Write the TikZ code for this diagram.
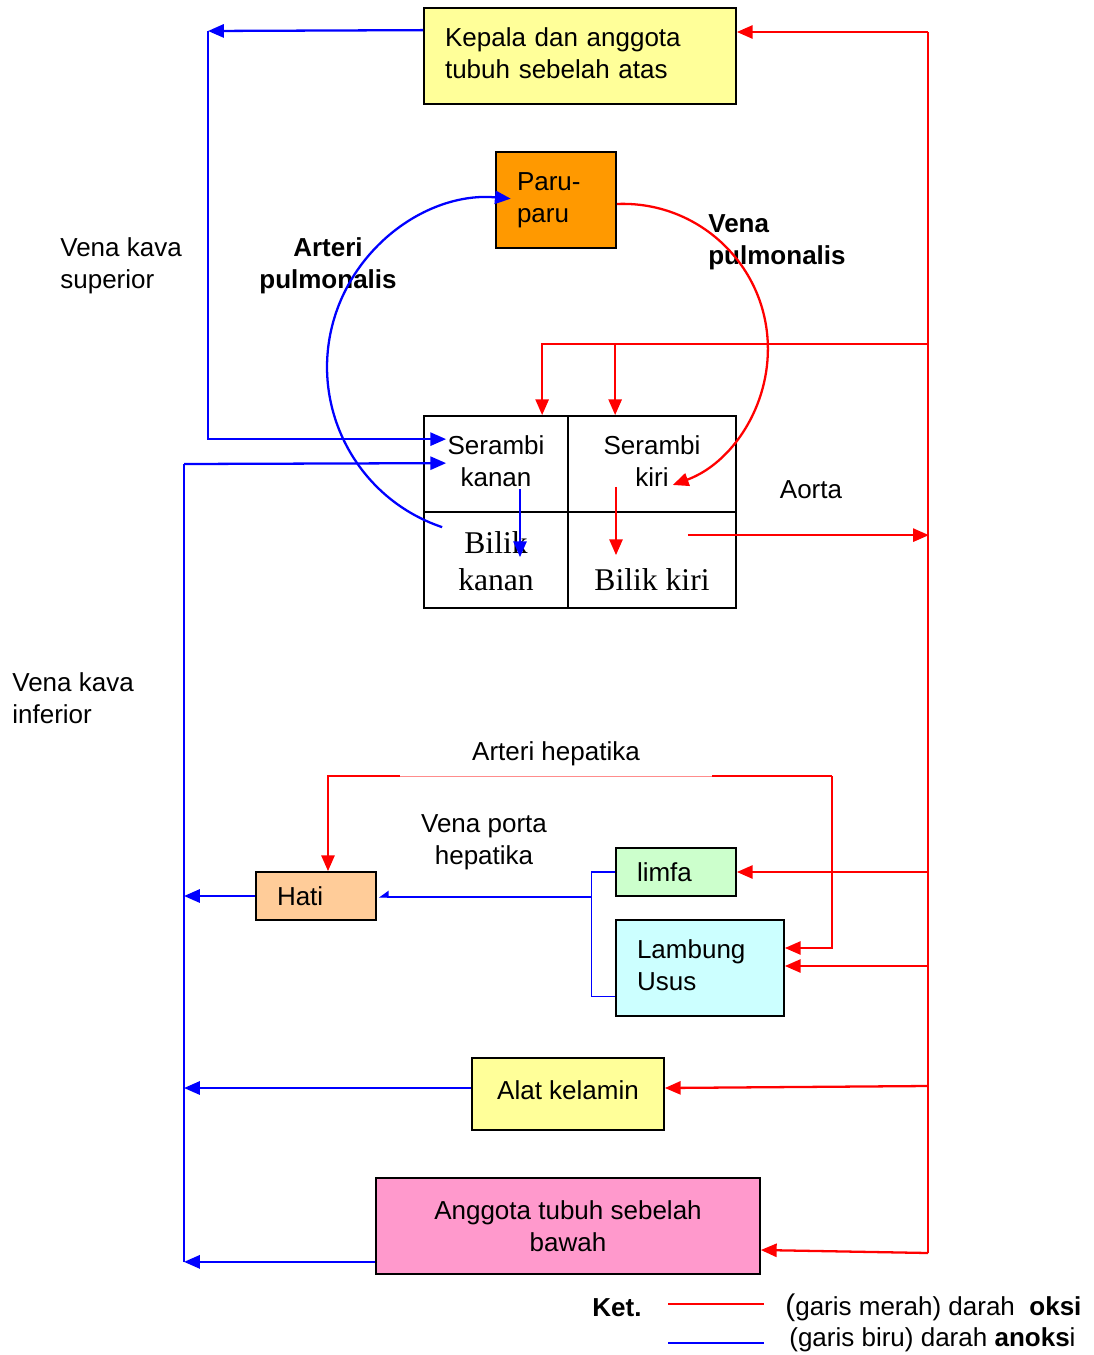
\documentclass[tikz,border=0pt]{standalone}
\usepackage{fontspec}
\setmainfont{Liberation Sans}
\newfontfamily\bilikfont{Liberation Serif}
\usetikzlibrary{arrows.meta, calc}

\definecolor{merah}{HTML}{FF0000}
\definecolor{biru}{HTML}{0000FF}
\definecolor{kuning}{HTML}{FFFF99}
\definecolor{oranye}{HTML}{FF9900}
\definecolor{krem}{HTML}{FFCC99}
\definecolor{hijau}{HTML}{CCFFCC}
\definecolor{cyan}{HTML}{CCFFFF}
\definecolor{pink}{HTML}{FF99CC}

\newcommand{\naik}[3]{\raisebox{#1}{\begin{tabular}{@{}#2@{}}#3\end{tabular}}}

\begin{document}
\begin{tikzpicture}[x=0.02cm, y=-0.02cm,
    every node/.style={font=\fontsize{14.8}{18.2}\selectfont, inner sep=0pt},
    kotak/.style={draw, line width=1pt, align=left, inner xsep=0.42cm},
    sel/.style={draw, line width=1pt, align=center},
    tebal/.style={font=\fontsize{14.8}{18.2}\selectfont\bfseries},
    bilik/.style={font=\fontsize{18}{21}\selectfont\bilikfont, align=center},
    darahO/.style={merah, line width=1.3pt},
    darahA/.style={biru, line width=1.3pt},
    panah/.style={-{Triangle[length=9pt, width=7.5pt]}}]
    \useasboundingbox (0,0) rectangle (1094,1355);

    % organ
    \node[kotak, fill=kuning, minimum width=6.24cm, minimum height=1.92cm, text width=5.4cm] (kepala) at (580,56) {\naik{0.1cm}{l}{Kepala dan anggota\\tubuh sebelah atas}};
    \node[kotak, fill=oranye, minimum width=2.4cm, minimum height=1.92cm, text width=1.56cm] (paru) at (556,200) {Paru-\\paru};
    \node[kotak, fill=krem, minimum width=2.4cm, minimum height=0.96cm, text width=1.56cm] (hati) at (316,896) {Hati};
    \node[kotak, fill=hijau, minimum width=2.4cm, minimum height=0.96cm, text width=1.56cm] (limfa) at (676,872) {limfa};
    \node[kotak, fill=cyan, minimum width=3.36cm, minimum height=1.92cm, text width=2.52cm] (lambung) at (700,968) {\naik{0.12cm}{l}{Lambung\\Usus}};
    \node[sel, fill=kuning, minimum width=3.84cm, minimum height=1.44cm] (alat) at (568,1094) {\raisebox{0.16cm}{Alat kelamin}};
    \node[sel, fill=pink, minimum width=7.68cm, minimum height=1.92cm] (anggota) at (568,1226) {Anggota tubuh sebelah\\bawah};

    % jantung
    \node[sel, minimum width=2.88cm, minimum height=1.92cm] (sk) at (496,464) {\naik{0.1cm}{c}{Serambi\\kanan}};
    \node[sel, minimum width=3.36cm, minimum height=1.92cm] (skr) at (652,464) {\naik{0.1cm}{c}{Serambi\\kiri}};
    \node[sel, minimum width=2.88cm, minimum height=1.92cm] (bk) at (496,560) {};
    \node[sel, minimum width=3.36cm, minimum height=1.92cm] (bkr) at (652,560) {};
    \node[bilik] (bkT) at (496,561) {Bilik\\kanan};
    \node[bilik] (bkrT) at (652,580) {Bilik kiri};

    % label
    \node[align=left, anchor=west] (vks) at (60,266) {Vena kava\\superior};
    \node[tebal, align=center] (ap) at (328,266) {Arteri\\pulmonalis};
    \node[tebal, align=left, anchor=west] (vp) at (708,242) {Vena\\pulmonalis};
    \node[align=left, anchor=west] (vki) at (12,698) {Vena kava\\inferior};
    \node (aorta) at (811,490) {Aorta};
    \node (ah) at (556,754) {Arteri hepatika};
    \node[align=center] (vph) at (484,842) {Vena porta\\hepatika};

    % darah anoksi
    \coordinate (sup) at (208,31);
    \coordinate (infT) at (184,464);
    \coordinate (infB) at (184,1262);
    \draw[darahA, panah] ($(kepala.north west)+(0,23)$) -- (sup);
    \draw[darahA, panah] (sup) |- ($(sk.north west)+(23,24)$);
    \draw[darahA] (infB) -- (infT);
    \draw[darahA, panah] (infT) -- ($(sk.north west)+(23,48)$);
    \draw[darahA, panah] (hati.west) -- (hati.west -| infT);
    \draw[darahA, panah] ($(alat.west)+(0,-6)$) -- ($(alat.west -| infT)+(0,-6)$);
    \draw[darahA, panah] ($(anggota.south west)+(0,-13)$) -- ($(anggota.south west -| infT)+(0,-13)$);
    \draw[darahA, panah] ($(sk.south)+(24,-24)$) -- ($(bk.north)+(24,46)$);
    \draw[darahA, panah] ($(bk.north west)+(19,16)$) arc[start angle=251.4, end angle=85, radius=3.38cm];

    % vena porta
    \draw[biru, line width=0.7pt] (limfa.west) -| ($(lambung.south west)+(-24,-20)$) -- ($(lambung.south west)+(0,-20)$);
    \draw[biru, line width=0.7pt, -{Triangle[length=5pt, width=7pt, harpoon, swap]}] ($(limfa.west)+(-24,25)$) -- ($(hati.east)+(2,1)$);

    % darah oksi
    \coordinate (atas) at (928,32);
    \coordinate (bawah) at (928,1253);
    \coordinate (kiri) at (928,344);
    \coordinate (hep) at (832,776);
    \draw[darahO] (atas) -- (bawah);
    \draw[darahO, panah] (atas) -- (kepala.east |- atas);
    \draw[darahO, panah] (kiri) -| ($(sk.north west)+(119,0)$);
    \draw[darahO, panah] ($(skr.north west)+(48,-72)$) -- ($(skr.north west)+(48,0)$);
    \draw[darahO, panah] ($(paru.east)+(0,4)$) arc[start angle=92.4, end angle=-69.9, radius=2.9cm];
    \draw[darahO, panah] ($(skr.south)+(-36,-26)$) -- ($(bkr.north)+(-36,44)$);
    \draw[darahO, panah] ($(bkr.north east)+(-49,24)$) -- ($(bkr.north east)+(192,24)$);
    \draw[darahO, panah] (hep) -| ($(hati.north)+(12,0)$);
    \draw[white, line width=1.5pt] (400,776) -- (712,776);
    \draw[merah!45, line width=0.5pt] (400,776) -- (712,776);
    \draw[darahO, panah] (hep) |- ($(lambung.east)+(0,-20)$);
    \draw[darahO, panah] (limfa.east -| atas) -- (limfa.east);
    \draw[darahO, panah] ($(lambung.east -| atas)+(0,-2)$) -- ($(lambung.east)+(0,-2)$);
    \draw[darahO, panah] ($(alat.east -| atas)+(0,-8)$) -- ($(alat.east)+(0,-6)$);
    \draw[darahO, panah] (bawah) -- ($(anggota.east)+(0,24)$);

    % keterangan
    \node[tebal, anchor=west] (ket) at (592,1308) {Ket.};
    \coordinate (lO1) at (668,1304);
    \coordinate (lO2) at (764,1304);
    \coordinate (lA1) at (668,1343);
    \coordinate (lA2) at (764,1343);
    \draw[merah, line width=0.9pt] (lO1) -- (lO2);
    \draw[biru, line width=0.9pt] (lA1) -- (lA2);
    \node[anchor=west] (ketO) at (785,1308) {{\fontsize{17}{18}\selectfont(}garis merah) darah \ \textbf{oksi}};
    \node[anchor=west] (ketA) at (789,1340) {(garis biru) darah \textbf{anoks}i};
\end{tikzpicture}
\end{document}
